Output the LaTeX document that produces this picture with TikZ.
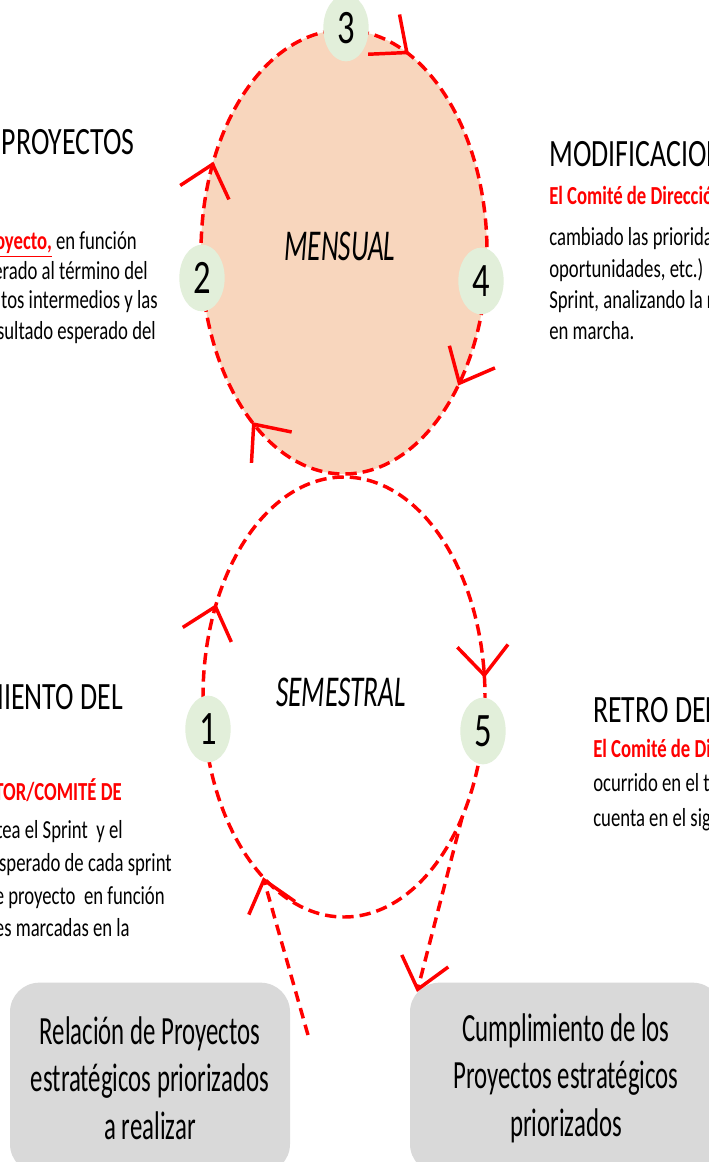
\documentclass[tikz,border=0pt]{standalone}
\usepackage{fontspec}
\setmainfont{Carlito}[FakeStretch=0.72]
\newfontfamily\narrowfont{Carlito}[FakeStretch=0.62]
\usetikzlibrary{arrows.meta,calc,positioning,shapes.geometric}
\definecolor{cyclered}{HTML}{FF0000}
\definecolor{peach}{HTML}{F8D6BD}
\definecolor{numgreen}{HTML}{E2EFDA}
\definecolor{boxgray}{HTML}{D9D9D9}
\newcommand{\rojo}[1]{\textcolor{cyclered}{\bfseries #1}}

\begin{document}
\begin{tikzpicture}[
    x=0.75pt, y=-0.75pt,
    cycleline/.style={draw=cyclered, line width=2.6pt, dash pattern=on 8.5pt off 4.5pt},
    barb/.style={draw=cyclered, line width=2.6pt, -{Straight Barb[length=22pt, width=38pt]}},
    feedline/.style={draw=cyclered, line width=2.6pt, dash pattern=on 8pt off 5pt, -{Straight Barb[length=22pt, width=36pt]}},
    numnode/.style={ellipse, fill=numgreen, minimum width=34pt, minimum height=50pt, inner sep=0pt, font=\fontsize{36}{36}\selectfont},
    titletext/.style={inner sep=0pt, font=\fontsize{29}{32}\selectfont},
    bodytext/.style={inner sep=0pt, font=\fontsize{19.5}{23}\selectfont},
    periodtext/.style={inner sep=0pt, font=\narrowfont\fontsize{33}{36}\selectfont\itshape},
    outbox/.style={rounded corners=22pt, fill=boxgray, minimum height=143pt, align=center, font=\narrowfont\fontsize{30}{35.5}\selectfont},
]
\useasboundingbox (0,0) rectangle (709,1162);
\clip (0,0) rectangle (709,1162);
\fill[white] (0,0) rectangle (709,1162);

% the two cycles
\coordinate (mens) at (344,252);
\coordinate (sem) at (344,697);
\draw[cycleline, fill=peach] (mens) ellipse [x radius=143, y radius=222];
\draw[cycleline] (sem) ellipse [x radius=141, y radius=220];

% arrow tips along the cycles
\foreach \a in {297,37,130,204}
  \draw[barb] ($(mens)+(\a-2:143 and 222)$) arc[start angle=\a-2, end angle=\a, x radius=143, y radius=222];
\foreach \a in {205,355}
  \draw[barb] ($(sem)+(\a-2:141 and 220)$) arc[start angle=\a-2, end angle=\a, x radius=141, y radius=220];

\node[periodtext] (mensual) at (340,246) {MENSUAL};
\node[periodtext] (semestral) at (341,692) {SEMESTRAL};

% steps
\node[numnode] (n3) at (346,28) {3};
\node[numnode] (n2) at (202,278) {2};
\node[numnode] (n4) at (481,281) {4};
\node[numnode] (n1) at (208,729) {1};
\node[numnode] (n5) at (483,731) {5};

% input and output
\node[outbox, minimum width=210pt] (relacion) at (150,1078)
  {Relación de Proyectos\\estratégicos priorizados\\a realizar};
\node[outbox, minimum width=234pt] (cumplimiento) at (566,1078)
  {Cumplimiento de los\\Proyectos estratégicos\\priorizados};
\coordinate (entrada) at (308,1035);
\coordinate (salida) at (417,992);
\coordinate (semin) at ($(sem)+(125:141 and 220)$);
\coordinate (semout) at ($(sem)+(33:141 and 220)$);
\draw[feedline] (entrada) -- (semin);
\draw[feedline] (semout) -- (salida);

% step 2 text
\node[titletext, anchor=base east] (t2) at (135,155) {DE PROYECTOS};
\node[bodytext, anchor=base east] (t2a) at (137,250) {\textcolor{cyclered}{\bfseries\underline{Proyecto,}} en función};
\node[bodytext, anchor=base east] (t2b) at (148,280) {esperado al término del};
\node[bodytext, anchor=base east] (t2c) at (158,309) {hitos intermedios y las};
\node[bodytext, anchor=base east] (t2d) at (156,339) {resultado esperado del};

% step 4 text
\node[titletext, anchor=base west] (t4) at (549,167) {MODIFICACIONES};
\node[bodytext, anchor=base west] (t4a) at (549,205) {\rojo{El Comité de Dirección}};
\node[bodytext, anchor=base west] (t4b) at (549,246) {cambiado las prioridades};
\node[bodytext, anchor=base west] (t4c) at (549,277) {oportunidades, etc.) de};
\node[bodytext, anchor=base west] (t4d) at (549,308) {Sprint, analizando la realidad};
\node[bodytext, anchor=base west] (t4e) at (549,339) {en marcha.};

% step 1 text
\node[titletext, anchor=base east] (t1) at (123,709) {LANZAMIENTO DEL};
\node[bodytext, anchor=base east] (t1a) at (122,800) {\rojo{DIRECTOR/COMITÉ DE}};
\node[bodytext, anchor=base east] (t1b) at (123,838) {plantea el Sprint~ y el};
\node[bodytext, anchor=base east] (t1c) at (172,871) {resultado esperado de cada sprint};
\node[bodytext, anchor=base east] (t1d) at (165,904) {de proyecto~ en función};
\node[bodytext, anchor=base east] (t1e) at (130,936) {prioridades marcadas en la};

% step 5 text
\node[titletext, anchor=base west] (t5) at (593,722) {RETRO DEL SPRINT};
\node[bodytext, anchor=base west] (t5a) at (593,757) {\rojo{El Comité de Dirección}};
\node[bodytext, anchor=base west] (t5b) at (593,791) {ocurrido en el trimestre};
\node[bodytext, anchor=base west] (t5c) at (593,826) {cuenta en el siguiente};
\end{tikzpicture}
\end{document}
